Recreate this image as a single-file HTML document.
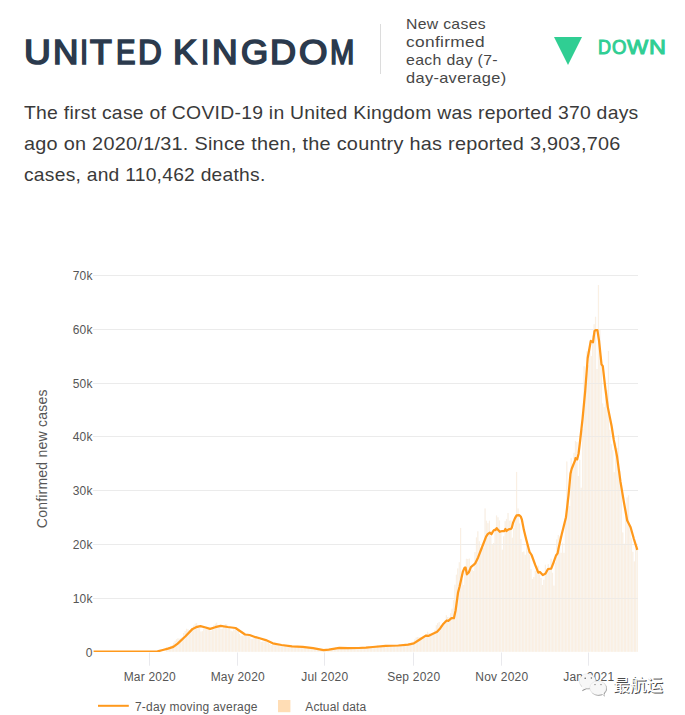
<!DOCTYPE html>
<html><head><meta charset="utf-8"><title>United Kingdom</title>
<style>
html,body{margin:0;padding:0;background:#fff;overflow:hidden;}
body{width:685px;height:715px;position:relative;overflow:hidden;font-family:"Liberation Sans",sans-serif;}
.title{position:absolute;top:29.0px;font-size:34.8px;line-height:46px;font-weight:normal;color:#2b3a4d;-webkit-text-stroke:1.7px #2b3a4d;white-space:nowrap;}
.title span{display:inline-block;vertical-align:top;transform-origin:0 0;overflow:visible;}
.divider{position:absolute;left:380px;top:24px;width:1px;height:50px;background:#dcdcdc;}
.sub{position:absolute;left:405.8px;top:14.5px;font-size:15px;line-height:18px;color:#474747;white-space:nowrap;letter-spacing:0.3px;}
.sub span,.para span{display:block;transform-origin:0 0;}
.tri{position:absolute;left:553.5px;top:37px;width:0;height:0;border-left:14.4px solid transparent;border-right:14.4px solid transparent;border-top:28.3px solid #30ce93;}
.down{position:absolute;top:35.3px;font-size:19.5px;line-height:24px;font-weight:normal;color:#30ce93;-webkit-text-stroke:1px #30ce93;white-space:nowrap;}
.down span{display:inline-block;vertical-align:top;transform-origin:0 0;overflow:visible;}
.para{position:absolute;left:24.2px;top:97.3px;font-size:18.5px;line-height:31px;color:#3a3a3a;white-space:nowrap;letter-spacing:0.25px;}
.para span{display:block;}
svg{position:absolute;left:0;top:0;}
.wm{position:absolute;left:613.2px;top:673.5px;font-family:"Liberation Sans","Noto Sans CJK SC",sans-serif;font-size:16.6px;line-height:24px;font-weight:500;color:#fff;text-shadow:0.9px 0.9px 0 #4a4a4a;white-space:nowrap;}
svg text{font-family:"Liberation Sans",sans-serif;font-size:12px;fill:#565656;letter-spacing:0.2px;}
</style></head><body>
<div class="title" style="left:24.0px"><span style="width:28.6px;transform:scaleX(1.067)">U</span><span style="width:27.7px;transform:scaleX(1.010)">N</span><span style="width:10.2px;transform:scaleX(0.840)">I</span><span style="width:25.5px;transform:scaleX(1.024)">T</span><span style="width:22.5px;transform:scaleX(0.840)">E</span><span style="width:24.7px;transform:scaleX(0.945)">D</span> <span style="width:28.1px;transform:scaleX(1.032)">K</span><span style="width:10.8px;transform:scaleX(0.840)">I</span><span style="width:28.8px;transform:scaleX(1.019)">N</span><span style="width:29.9px;transform:scaleX(1.004)">G</span><span style="width:28.8px;transform:scaleX(1.036)">D</span><span style="width:31.2px;transform:scaleX(1.052)">O</span><span style="width:24px;transform:scaleX(0.840)">M</span></div>
<div class="divider"></div>
<div class="sub"><span style="transform:scaleX(1.0507)">New cases</span><span style="transform:scaleX(1.1525)">confirmed</span><span style="transform:scaleX(1.0572)">each day (7-</span><span style="transform:scaleX(1.0922)">day-average)</span></div>
<div class="tri"></div>
<div class="down" style="left:597.8px"><span style="width:14.3px;transform:scaleX(0.926)">D</span><span style="width:14.8px;transform:scaleX(0.955)">O</span><span style="width:22.5px;transform:scaleX(1.15)">W</span><span style="width:14px;transform:scaleX(1.200)">N</span></div>
<div class="para"><span class="l1" style="transform:scaleX(1.0466)">The first case of COVID-19 in United Kingdom was reported 370 days</span><span class="l2" style="transform:scaleX(1.0731)">ago on 2020/1/31. Since then, the country has reported 3,903,706</span><span class="l3" style="transform:scaleX(1.0391)">cases, and 110,462 deaths.</span></div>
<svg width="685" height="715" viewBox="0 0 685 715">
<g stroke="#ebebeb" stroke-width="1" shape-rendering="crispEdges"><line x1="93" x2="638" y1="598.5" y2="598.5"/><line x1="93" x2="638" y1="544.5" y2="544.5"/><line x1="93" x2="638" y1="490.5" y2="490.5"/><line x1="93" x2="638" y1="436.5" y2="436.5"/><line x1="93" x2="638" y1="383.5" y2="383.5"/><line x1="93" x2="638" y1="329.5" y2="329.5"/><line x1="93" x2="638" y1="275.5" y2="275.5"/></g>
<clipPath id="uc"><path d="M165.77,651.8L165.77,647.39L167.20,647.39L167.20,646.90L168.64,646.90L168.64,647.04L170.07,647.04L170.07,646.29L171.51,646.29L171.51,645.23L172.94,645.23L172.94,642.86L174.38,642.86L174.38,640.80L175.81,640.80L175.81,639.27L177.25,639.27L177.25,638.29L178.68,638.29L178.68,638.78L180.12,638.78L180.12,638.25L181.55,638.25L181.55,637.04L182.99,637.04L182.99,633.06L184.42,633.06L184.42,630.96L185.86,630.96L185.86,628.84L187.29,628.84L187.29,629.22L188.73,629.22L188.73,630.11L190.16,630.11L190.16,629.50L191.60,629.50L191.60,630.17L193.03,630.17L193.03,625.51L194.47,625.51L194.47,623.69L195.90,623.69L195.90,623.08L197.34,623.08L197.34,625.33L198.77,625.33L198.77,627.87L200.21,627.87L200.21,631.57L201.64,631.57L201.64,631.23L203.08,631.23L203.08,628.56L204.51,628.56L204.51,627.81L205.95,627.81L205.95,627.64L207.38,627.64L207.38,627.97L208.82,627.97L208.82,628.64L210.25,628.64L210.25,631.12L211.69,631.12L211.69,628.01L213.12,628.01L213.12,625.27L214.56,625.27L214.56,623.77L215.99,623.77L215.99,622.72L217.43,622.72L217.43,625.50L218.86,625.50L218.86,626.30L220.30,626.30L220.30,628.90L221.73,628.90L221.73,628.65L223.17,628.65L223.17,626.54L224.60,626.54L224.60,624.09L226.04,624.09L226.04,624.35L227.47,624.35L227.47,625.82L228.91,625.82L228.91,627.77L230.34,627.77L230.34,630.66L231.78,630.66L231.78,631.42L233.21,631.42L233.21,629.18L234.65,629.18L234.65,629.89L236.08,629.89L236.08,630.71L237.52,630.71L237.52,631.18L238.95,631.18L238.95,633.96L240.39,633.96L240.39,635.84L241.82,635.84L241.82,635.67L243.26,635.67L243.26,634.33L244.69,634.33L244.69,634.53L246.13,634.53L246.13,634.05L247.56,634.05L247.56,634.37L249.00,634.37L249.00,636.79L250.43,636.79L250.43,638.99L251.87,638.99L251.87,638.93L253.30,638.93L253.30,637.98L254.74,637.98L254.74,637.67L256.17,637.67L256.17,638.17L257.61,638.17L257.61,637.78L259.04,637.78L259.04,639.90L260.48,639.90L260.48,641.90L261.91,641.90L261.91,641.75L263.35,641.75L263.35,641.55L264.78,641.55L264.78,641.41L266.22,641.41L266.22,641.37L267.65,641.37L267.65,642.55L269.09,642.55L269.09,643.89L270.52,643.89L270.52,644.97L271.96,644.97L271.96,644.67L273.39,644.67L273.39,643.73L274.83,643.73L274.83,644.06L276.26,644.06L276.26,644.62L277.70,644.62L277.70,645.10L279.13,645.10L279.13,645.89L280.57,645.89L280.57,645.97L282.00,645.97L282.00,646.23L283.44,646.23L283.44,645.46L284.87,645.46L284.87,645.80L286.31,645.80L286.31,645.88L287.74,645.88L287.74,645.92L289.18,645.92L289.18,646.41L290.61,646.41L290.61,647.22L292.05,647.22L292.05,647.27L293.48,647.27L293.48,646.21L294.92,646.21L294.92,646.32L296.35,646.32L296.35,646.03L297.79,646.03L297.79,646.69L299.22,646.69L299.22,647.05L300.66,647.05L300.66,647.55L302.09,647.55L302.09,647.64L303.53,647.64L303.53,647.48L304.96,647.48L304.96,647.23L306.40,647.23L306.40,647.71L307.83,647.71L307.83,647.97L309.27,647.97L309.27,648.52L310.70,648.52L310.70,648.87L312.14,648.87L312.14,649.24L313.57,649.24L313.57,648.91L315.01,648.91L315.01,649.06L316.44,649.06L316.44,649.28L317.88,649.28L317.88,649.81L319.31,649.81L319.31,650.09L320.75,650.09L320.75,650.11L322.18,650.11L322.18,649.79L323.62,649.79L323.62,649.34L325.05,649.34L325.05,649.03L326.49,649.03L326.49,648.82L327.92,648.82L327.92,648.76L329.36,648.76L329.36,648.63L330.79,648.63L330.79,648.68L332.23,648.68L332.23,648.66L333.66,648.66L333.66,647.96L335.10,647.96L335.10,647.34L336.53,647.34L336.53,647.35L337.97,647.35L337.97,647.82L339.40,647.82L339.40,648.26L340.84,648.26L340.84,648.54L342.27,648.54L342.27,648.43L343.71,648.43L343.71,648.20L345.14,648.20L345.14,647.60L346.58,647.60L346.58,647.68L348.01,647.68L348.01,647.68L349.45,647.68L349.45,648.29L350.88,648.29L350.88,648.26L352.32,648.26L352.32,648.21L353.75,648.21L353.75,647.89L355.19,647.89L355.19,647.26L356.62,647.26L356.62,647.26L358.06,647.26L358.06,647.27L359.49,647.27L359.49,648.01L360.93,648.01L360.93,648.26L362.36,648.26L362.36,647.70L363.80,647.70L363.80,647.27L365.23,647.27L365.23,646.74L366.67,646.74L366.67,646.78L368.10,646.78L368.10,646.33L369.54,646.33L369.54,647.00L370.97,647.00L370.97,647.12L372.41,647.12L372.41,647.28L373.84,647.28L373.84,646.29L375.28,646.29L375.28,646.13L376.71,646.13L376.71,645.34L378.15,645.34L378.15,645.77L379.58,645.77L379.58,646.48L381.02,646.48L381.02,646.84L382.45,646.84L382.45,646.32L383.89,646.32L383.89,645.89L385.32,645.89L385.32,645.42L386.76,645.42L386.76,645.10L388.19,645.10L388.19,645.26L389.63,645.26L389.63,645.77L391.06,645.77L391.06,646.22L392.50,646.22L392.50,646.16L393.93,646.16L393.93,645.14L395.37,645.14L395.37,644.99L396.80,644.99L396.80,644.68L398.24,644.68L398.24,644.36L399.67,644.36L399.67,645.45L401.11,645.45L401.11,645.82L402.54,645.82L402.54,645.48L403.98,645.48L403.98,644.20L405.41,644.20L405.41,643.90L406.85,643.90L406.85,643.48L408.28,643.48L408.28,643.03L409.72,643.03L409.72,643.49L411.15,643.49L411.15,642.85L412.59,642.85L412.59,641.53L414.02,641.53L414.02,639.48L415.46,639.48L415.46,637.55L416.89,637.55L416.89,636.94L418.33,636.94L418.33,637.18L419.76,637.18L419.76,637.04L421.20,637.04L421.20,637.88L422.63,637.88L422.63,637.16L424.07,637.16L424.07,635.83L425.50,635.83L425.50,633.98L426.94,633.98L426.94,631.73L428.37,631.73L428.37,632.99L429.81,632.99L429.81,633.83L431.24,633.83L431.24,633.67L432.68,633.67L432.68,633.53L434.11,633.53L434.11,629.90L435.55,629.90L435.55,625.16L436.98,625.16L436.98,623.12L438.42,623.12L438.42,621.88L439.85,621.88L439.85,625.25L441.29,625.25L441.29,625.09L442.72,625.09L442.72,625.44L444.16,625.44L444.16,620.41L445.59,620.41L445.59,615.33L447.03,615.33L447.03,617.00L448.46,617.00L448.46,617.29L449.90,617.29L449.90,613.26L451.33,613.26L451.33,608.63L452.77,608.63L452.77,600.12L454.20,600.12L454.20,584.67L455.64,584.67L455.64,574.66L457.07,574.66L457.07,568.43L458.51,568.43L458.51,562.32L459.94,562.32L459.94,527.90L461.38,527.90L461.38,579.30L462.81,579.30L462.81,584.96L464.25,584.96L464.25,565.92L465.68,565.92L465.68,558.83L467.12,558.83L467.12,558.90L468.55,558.90L468.55,558.60L469.99,558.60L469.99,568.21L471.42,568.21L471.42,569.96L472.86,569.96L472.86,571.09L474.29,571.09L474.29,552.09L475.73,552.09L475.73,537.42L477.16,537.42L477.16,531.34L478.60,531.34L478.60,541.34L480.03,541.34L480.03,548.03L481.47,548.03L481.47,546.09L482.90,546.09L482.90,547.68L484.34,547.68L484.34,508.40L485.77,508.40L485.77,520.74L487.21,520.74L487.21,523.26L488.64,523.26L488.64,520.74L490.08,520.74L490.08,536.34L491.51,536.34L491.51,544.31L492.95,544.31L492.95,542.99L494.38,542.99L494.38,531.96L495.82,531.96L495.82,515.46L497.25,515.46L497.25,517.35L498.69,517.35L498.69,520.46L500.12,520.46L500.12,529.96L501.56,529.96L501.56,549.72L502.99,549.72L502.99,536.35L504.43,536.35L504.43,521.16L505.86,521.16L505.86,518.88L507.30,518.88L507.30,513.03L508.73,513.03L508.73,520.79L510.17,520.79L510.17,520.38L511.60,520.38L511.60,537.70L513.04,537.70L513.04,528.29L514.47,528.29L514.47,518.86L515.91,518.86L515.91,471.90L517.34,471.90L517.34,508.49L518.78,508.49L518.78,523.50L520.21,523.50L520.21,538.90L521.65,538.90L521.65,552.12L523.08,552.12L523.08,551.51L524.52,551.51L524.52,554.85L525.95,554.85L525.95,544.46L527.39,544.46L527.39,547.67L528.82,547.67L528.82,554.87L530.26,554.87L530.26,568.96L531.69,568.96L531.69,578.95L533.13,578.95L533.13,577.02L534.56,577.02L534.56,570.83L536.00,570.83L536.00,566.38L537.43,566.38L537.43,565.75L538.87,565.75L538.87,574.49L540.30,574.49L540.30,578.03L541.74,578.03L541.74,584.97L543.17,584.97L543.17,579.75L544.61,579.75L544.61,564.69L546.04,564.69L546.04,571.68L547.48,571.68L547.48,564.15L548.91,564.15L548.91,568.46L550.35,568.46L550.35,558.78L551.78,558.78L551.78,572.76L553.22,572.76L553.22,585.66L554.65,585.66L554.65,562.54L556.09,562.54L556.09,539.42L557.52,539.42L557.52,535.12L558.96,535.12L558.96,536.19L560.39,536.19L560.39,552.86L561.83,552.86L561.83,542.65L563.26,542.65L563.26,552.86L564.70,552.86L564.70,516.30L566.13,516.30L566.13,461.45L567.57,461.45L567.57,498.56L569.00,498.56L569.00,506.08L570.44,506.08L570.44,458.23L571.87,458.23L571.87,471.67L573.31,471.67L573.31,452.85L574.74,452.85L574.74,441.02L576.18,441.02L576.18,442.10L577.61,442.10L577.61,475.97L579.05,475.97L579.05,459.84L580.48,459.84L580.48,487.80L581.92,487.80L581.92,429.19L583.35,429.19L583.35,366.28L584.79,366.28L584.79,382.95L586.22,382.95L586.22,351.23L587.66,351.23L587.66,365.21L589.09,365.21L589.09,341.55L590.53,341.55L590.53,356.06L591.96,356.06L591.96,335.63L593.40,335.63L593.40,324.34L594.83,324.34L594.83,316.81L596.27,316.81L596.27,368.97L597.70,368.97L597.70,285.00L599.14,285.00L599.14,329.72L600.57,329.72L600.57,356.60L602.01,356.60L602.01,403.38L603.44,403.38L603.44,407.15L604.88,407.15L604.88,396.39L606.31,396.39L606.31,389.94L607.75,389.94L607.75,350.90L609.18,350.90L609.18,429.73L610.62,429.73L610.62,444.25L612.05,444.25L612.05,450.16L613.49,450.16L613.49,472.21L614.92,472.21L614.92,442.63L616.36,442.63L616.36,448.01L617.79,448.01L617.79,435.11L619.23,435.11L619.23,471.13L620.66,471.13L620.66,490.49L622.10,490.49L622.10,532.43L623.53,532.43L623.53,543.72L624.97,543.72L624.97,515.76L626.40,515.76L626.40,497.48L627.84,497.48L627.84,495.33L629.27,495.33L629.27,526.52L630.71,526.52L630.71,538.35L632.14,538.35L632.14,551.79L633.58,551.79L633.58,561.47L635.01,561.47L635.01,548.56L636.45,548.56L636.45,546.41L637.88,546.41L637.9,651.8Z"/></clipPath>
<path d="M165.77,651.8L165.77,647.39L167.20,647.39L167.20,646.90L168.64,646.90L168.64,647.04L170.07,647.04L170.07,646.29L171.51,646.29L171.51,645.23L172.94,645.23L172.94,642.86L174.38,642.86L174.38,640.80L175.81,640.80L175.81,639.27L177.25,639.27L177.25,638.29L178.68,638.29L178.68,638.78L180.12,638.78L180.12,638.25L181.55,638.25L181.55,637.04L182.99,637.04L182.99,633.06L184.42,633.06L184.42,630.96L185.86,630.96L185.86,628.84L187.29,628.84L187.29,629.22L188.73,629.22L188.73,630.11L190.16,630.11L190.16,629.50L191.60,629.50L191.60,630.17L193.03,630.17L193.03,625.51L194.47,625.51L194.47,623.69L195.90,623.69L195.90,623.08L197.34,623.08L197.34,625.33L198.77,625.33L198.77,627.87L200.21,627.87L200.21,631.57L201.64,631.57L201.64,631.23L203.08,631.23L203.08,628.56L204.51,628.56L204.51,627.81L205.95,627.81L205.95,627.64L207.38,627.64L207.38,627.97L208.82,627.97L208.82,628.64L210.25,628.64L210.25,631.12L211.69,631.12L211.69,628.01L213.12,628.01L213.12,625.27L214.56,625.27L214.56,623.77L215.99,623.77L215.99,622.72L217.43,622.72L217.43,625.50L218.86,625.50L218.86,626.30L220.30,626.30L220.30,628.90L221.73,628.90L221.73,628.65L223.17,628.65L223.17,626.54L224.60,626.54L224.60,624.09L226.04,624.09L226.04,624.35L227.47,624.35L227.47,625.82L228.91,625.82L228.91,627.77L230.34,627.77L230.34,630.66L231.78,630.66L231.78,631.42L233.21,631.42L233.21,629.18L234.65,629.18L234.65,629.89L236.08,629.89L236.08,630.71L237.52,630.71L237.52,631.18L238.95,631.18L238.95,633.96L240.39,633.96L240.39,635.84L241.82,635.84L241.82,635.67L243.26,635.67L243.26,634.33L244.69,634.33L244.69,634.53L246.13,634.53L246.13,634.05L247.56,634.05L247.56,634.37L249.00,634.37L249.00,636.79L250.43,636.79L250.43,638.99L251.87,638.99L251.87,638.93L253.30,638.93L253.30,637.98L254.74,637.98L254.74,637.67L256.17,637.67L256.17,638.17L257.61,638.17L257.61,637.78L259.04,637.78L259.04,639.90L260.48,639.90L260.48,641.90L261.91,641.90L261.91,641.75L263.35,641.75L263.35,641.55L264.78,641.55L264.78,641.41L266.22,641.41L266.22,641.37L267.65,641.37L267.65,642.55L269.09,642.55L269.09,643.89L270.52,643.89L270.52,644.97L271.96,644.97L271.96,644.67L273.39,644.67L273.39,643.73L274.83,643.73L274.83,644.06L276.26,644.06L276.26,644.62L277.70,644.62L277.70,645.10L279.13,645.10L279.13,645.89L280.57,645.89L280.57,645.97L282.00,645.97L282.00,646.23L283.44,646.23L283.44,645.46L284.87,645.46L284.87,645.80L286.31,645.80L286.31,645.88L287.74,645.88L287.74,645.92L289.18,645.92L289.18,646.41L290.61,646.41L290.61,647.22L292.05,647.22L292.05,647.27L293.48,647.27L293.48,646.21L294.92,646.21L294.92,646.32L296.35,646.32L296.35,646.03L297.79,646.03L297.79,646.69L299.22,646.69L299.22,647.05L300.66,647.05L300.66,647.55L302.09,647.55L302.09,647.64L303.53,647.64L303.53,647.48L304.96,647.48L304.96,647.23L306.40,647.23L306.40,647.71L307.83,647.71L307.83,647.97L309.27,647.97L309.27,648.52L310.70,648.52L310.70,648.87L312.14,648.87L312.14,649.24L313.57,649.24L313.57,648.91L315.01,648.91L315.01,649.06L316.44,649.06L316.44,649.28L317.88,649.28L317.88,649.81L319.31,649.81L319.31,650.09L320.75,650.09L320.75,650.11L322.18,650.11L322.18,649.79L323.62,649.79L323.62,649.34L325.05,649.34L325.05,649.03L326.49,649.03L326.49,648.82L327.92,648.82L327.92,648.76L329.36,648.76L329.36,648.63L330.79,648.63L330.79,648.68L332.23,648.68L332.23,648.66L333.66,648.66L333.66,647.96L335.10,647.96L335.10,647.34L336.53,647.34L336.53,647.35L337.97,647.35L337.97,647.82L339.40,647.82L339.40,648.26L340.84,648.26L340.84,648.54L342.27,648.54L342.27,648.43L343.71,648.43L343.71,648.20L345.14,648.20L345.14,647.60L346.58,647.60L346.58,647.68L348.01,647.68L348.01,647.68L349.45,647.68L349.45,648.29L350.88,648.29L350.88,648.26L352.32,648.26L352.32,648.21L353.75,648.21L353.75,647.89L355.19,647.89L355.19,647.26L356.62,647.26L356.62,647.26L358.06,647.26L358.06,647.27L359.49,647.27L359.49,648.01L360.93,648.01L360.93,648.26L362.36,648.26L362.36,647.70L363.80,647.70L363.80,647.27L365.23,647.27L365.23,646.74L366.67,646.74L366.67,646.78L368.10,646.78L368.10,646.33L369.54,646.33L369.54,647.00L370.97,647.00L370.97,647.12L372.41,647.12L372.41,647.28L373.84,647.28L373.84,646.29L375.28,646.29L375.28,646.13L376.71,646.13L376.71,645.34L378.15,645.34L378.15,645.77L379.58,645.77L379.58,646.48L381.02,646.48L381.02,646.84L382.45,646.84L382.45,646.32L383.89,646.32L383.89,645.89L385.32,645.89L385.32,645.42L386.76,645.42L386.76,645.10L388.19,645.10L388.19,645.26L389.63,645.26L389.63,645.77L391.06,645.77L391.06,646.22L392.50,646.22L392.50,646.16L393.93,646.16L393.93,645.14L395.37,645.14L395.37,644.99L396.80,644.99L396.80,644.68L398.24,644.68L398.24,644.36L399.67,644.36L399.67,645.45L401.11,645.45L401.11,645.82L402.54,645.82L402.54,645.48L403.98,645.48L403.98,644.20L405.41,644.20L405.41,643.90L406.85,643.90L406.85,643.48L408.28,643.48L408.28,643.03L409.72,643.03L409.72,643.49L411.15,643.49L411.15,642.85L412.59,642.85L412.59,641.53L414.02,641.53L414.02,639.48L415.46,639.48L415.46,637.55L416.89,637.55L416.89,636.94L418.33,636.94L418.33,637.18L419.76,637.18L419.76,637.04L421.20,637.04L421.20,637.88L422.63,637.88L422.63,637.16L424.07,637.16L424.07,635.83L425.50,635.83L425.50,633.98L426.94,633.98L426.94,631.73L428.37,631.73L428.37,632.99L429.81,632.99L429.81,633.83L431.24,633.83L431.24,633.67L432.68,633.67L432.68,633.53L434.11,633.53L434.11,629.90L435.55,629.90L435.55,625.16L436.98,625.16L436.98,623.12L438.42,623.12L438.42,621.88L439.85,621.88L439.85,625.25L441.29,625.25L441.29,625.09L442.72,625.09L442.72,625.44L444.16,625.44L444.16,620.41L445.59,620.41L445.59,615.33L447.03,615.33L447.03,617.00L448.46,617.00L448.46,617.29L449.90,617.29L449.90,613.26L451.33,613.26L451.33,608.63L452.77,608.63L452.77,600.12L454.20,600.12L454.20,584.67L455.64,584.67L455.64,574.66L457.07,574.66L457.07,568.43L458.51,568.43L458.51,562.32L459.94,562.32L459.94,527.90L461.38,527.90L461.38,579.30L462.81,579.30L462.81,584.96L464.25,584.96L464.25,565.92L465.68,565.92L465.68,558.83L467.12,558.83L467.12,558.90L468.55,558.90L468.55,558.60L469.99,558.60L469.99,568.21L471.42,568.21L471.42,569.96L472.86,569.96L472.86,571.09L474.29,571.09L474.29,552.09L475.73,552.09L475.73,537.42L477.16,537.42L477.16,531.34L478.60,531.34L478.60,541.34L480.03,541.34L480.03,548.03L481.47,548.03L481.47,546.09L482.90,546.09L482.90,547.68L484.34,547.68L484.34,508.40L485.77,508.40L485.77,520.74L487.21,520.74L487.21,523.26L488.64,523.26L488.64,520.74L490.08,520.74L490.08,536.34L491.51,536.34L491.51,544.31L492.95,544.31L492.95,542.99L494.38,542.99L494.38,531.96L495.82,531.96L495.82,515.46L497.25,515.46L497.25,517.35L498.69,517.35L498.69,520.46L500.12,520.46L500.12,529.96L501.56,529.96L501.56,549.72L502.99,549.72L502.99,536.35L504.43,536.35L504.43,521.16L505.86,521.16L505.86,518.88L507.30,518.88L507.30,513.03L508.73,513.03L508.73,520.79L510.17,520.79L510.17,520.38L511.60,520.38L511.60,537.70L513.04,537.70L513.04,528.29L514.47,528.29L514.47,518.86L515.91,518.86L515.91,471.90L517.34,471.90L517.34,508.49L518.78,508.49L518.78,523.50L520.21,523.50L520.21,538.90L521.65,538.90L521.65,552.12L523.08,552.12L523.08,551.51L524.52,551.51L524.52,554.85L525.95,554.85L525.95,544.46L527.39,544.46L527.39,547.67L528.82,547.67L528.82,554.87L530.26,554.87L530.26,568.96L531.69,568.96L531.69,578.95L533.13,578.95L533.13,577.02L534.56,577.02L534.56,570.83L536.00,570.83L536.00,566.38L537.43,566.38L537.43,565.75L538.87,565.75L538.87,574.49L540.30,574.49L540.30,578.03L541.74,578.03L541.74,584.97L543.17,584.97L543.17,579.75L544.61,579.75L544.61,564.69L546.04,564.69L546.04,571.68L547.48,571.68L547.48,564.15L548.91,564.15L548.91,568.46L550.35,568.46L550.35,558.78L551.78,558.78L551.78,572.76L553.22,572.76L553.22,585.66L554.65,585.66L554.65,562.54L556.09,562.54L556.09,539.42L557.52,539.42L557.52,535.12L558.96,535.12L558.96,536.19L560.39,536.19L560.39,552.86L561.83,552.86L561.83,542.65L563.26,542.65L563.26,552.86L564.70,552.86L564.70,516.30L566.13,516.30L566.13,461.45L567.57,461.45L567.57,498.56L569.00,498.56L569.00,506.08L570.44,506.08L570.44,458.23L571.87,458.23L571.87,471.67L573.31,471.67L573.31,452.85L574.74,452.85L574.74,441.02L576.18,441.02L576.18,442.10L577.61,442.10L577.61,475.97L579.05,475.97L579.05,459.84L580.48,459.84L580.48,487.80L581.92,487.80L581.92,429.19L583.35,429.19L583.35,366.28L584.79,366.28L584.79,382.95L586.22,382.95L586.22,351.23L587.66,351.23L587.66,365.21L589.09,365.21L589.09,341.55L590.53,341.55L590.53,356.06L591.96,356.06L591.96,335.63L593.40,335.63L593.40,324.34L594.83,324.34L594.83,316.81L596.27,316.81L596.27,368.97L597.70,368.97L597.70,285.00L599.14,285.00L599.14,329.72L600.57,329.72L600.57,356.60L602.01,356.60L602.01,403.38L603.44,403.38L603.44,407.15L604.88,407.15L604.88,396.39L606.31,396.39L606.31,389.94L607.75,389.94L607.75,350.90L609.18,350.90L609.18,429.73L610.62,429.73L610.62,444.25L612.05,444.25L612.05,450.16L613.49,450.16L613.49,472.21L614.92,472.21L614.92,442.63L616.36,442.63L616.36,448.01L617.79,448.01L617.79,435.11L619.23,435.11L619.23,471.13L620.66,471.13L620.66,490.49L622.10,490.49L622.10,532.43L623.53,532.43L623.53,543.72L624.97,543.72L624.97,515.76L626.40,515.76L626.40,497.48L627.84,497.48L627.84,495.33L629.27,495.33L629.27,526.52L630.71,526.52L630.71,538.35L632.14,538.35L632.14,551.79L633.58,551.79L633.58,561.47L635.01,561.47L635.01,548.56L636.45,548.56L636.45,546.41L637.88,546.41L637.9,651.8Z" fill="#f8f6f4"/>
<g fill="#fcecd7"><rect x="166.19" y="647.39" width="0.6" height="4.41"/><rect x="167.62" y="646.90" width="0.6" height="4.90"/><rect x="169.06" y="647.04" width="0.6" height="4.76"/><rect x="170.49" y="646.29" width="0.6" height="5.51"/><rect x="171.92" y="645.23" width="0.6" height="6.57"/><rect x="173.36" y="642.86" width="0.6" height="8.94"/><rect x="174.79" y="640.80" width="0.6" height="11.00"/><rect x="176.23" y="639.27" width="0.6" height="12.53"/><rect x="177.66" y="638.29" width="0.6" height="13.51"/><rect x="179.10" y="638.78" width="0.6" height="13.02"/><rect x="180.53" y="638.25" width="0.6" height="13.55"/><rect x="181.97" y="637.04" width="0.6" height="14.76"/><rect x="183.40" y="633.06" width="0.6" height="18.74"/><rect x="184.84" y="630.96" width="0.6" height="20.84"/><rect x="186.27" y="628.84" width="0.6" height="22.96"/><rect x="187.71" y="629.22" width="0.6" height="22.58"/><rect x="189.14" y="630.11" width="0.6" height="21.69"/><rect x="190.58" y="629.50" width="0.6" height="22.30"/><rect x="192.01" y="630.17" width="0.6" height="21.63"/><rect x="193.45" y="625.51" width="0.6" height="26.29"/><rect x="194.88" y="623.69" width="0.6" height="28.11"/><rect x="196.32" y="623.08" width="0.6" height="28.72"/><rect x="197.75" y="625.33" width="0.6" height="26.47"/><rect x="199.19" y="627.87" width="0.6" height="23.93"/><rect x="200.62" y="631.57" width="0.6" height="20.23"/><rect x="202.06" y="631.23" width="0.6" height="20.57"/><rect x="203.50" y="628.56" width="0.6" height="23.24"/><rect x="204.93" y="627.81" width="0.6" height="23.99"/><rect x="206.37" y="627.64" width="0.6" height="24.16"/><rect x="207.80" y="627.97" width="0.6" height="23.83"/><rect x="209.23" y="628.64" width="0.6" height="23.16"/><rect x="210.67" y="631.12" width="0.6" height="20.68"/><rect x="212.10" y="628.01" width="0.6" height="23.79"/><rect x="213.54" y="625.27" width="0.6" height="26.53"/><rect x="214.97" y="623.77" width="0.6" height="28.03"/><rect x="216.41" y="622.72" width="0.6" height="29.08"/><rect x="217.84" y="625.50" width="0.6" height="26.30"/><rect x="219.28" y="626.30" width="0.6" height="25.50"/><rect x="220.71" y="628.90" width="0.6" height="22.90"/><rect x="222.15" y="628.65" width="0.6" height="23.15"/><rect x="223.58" y="626.54" width="0.6" height="25.26"/><rect x="225.02" y="624.09" width="0.6" height="27.71"/><rect x="226.45" y="624.35" width="0.6" height="27.45"/><rect x="227.89" y="625.82" width="0.6" height="25.98"/><rect x="229.32" y="627.77" width="0.6" height="24.03"/><rect x="230.76" y="630.66" width="0.6" height="21.14"/><rect x="232.19" y="631.42" width="0.6" height="20.38"/><rect x="233.63" y="629.18" width="0.6" height="22.62"/><rect x="235.06" y="629.89" width="0.6" height="21.91"/><rect x="236.50" y="630.71" width="0.6" height="21.09"/><rect x="237.94" y="631.18" width="0.6" height="20.62"/><rect x="239.37" y="633.96" width="0.6" height="17.84"/><rect x="240.81" y="635.84" width="0.6" height="15.96"/><rect x="242.24" y="635.67" width="0.6" height="16.13"/><rect x="243.68" y="634.33" width="0.6" height="17.47"/><rect x="245.11" y="634.53" width="0.6" height="17.27"/><rect x="246.55" y="634.05" width="0.6" height="17.75"/><rect x="247.98" y="634.37" width="0.6" height="17.43"/><rect x="249.41" y="636.79" width="0.6" height="15.01"/><rect x="250.85" y="638.99" width="0.6" height="12.81"/><rect x="252.28" y="638.93" width="0.6" height="12.87"/><rect x="253.72" y="637.98" width="0.6" height="13.82"/><rect x="255.15" y="637.67" width="0.6" height="14.13"/><rect x="256.59" y="638.17" width="0.6" height="13.63"/><rect x="258.02" y="637.78" width="0.6" height="14.02"/><rect x="259.46" y="639.90" width="0.6" height="11.90"/><rect x="260.89" y="641.90" width="0.6" height="9.90"/><rect x="262.33" y="641.75" width="0.6" height="10.05"/><rect x="263.76" y="641.55" width="0.6" height="10.25"/><rect x="265.20" y="641.41" width="0.6" height="10.39"/><rect x="266.63" y="641.37" width="0.6" height="10.43"/><rect x="268.07" y="642.55" width="0.6" height="9.25"/><rect x="269.50" y="643.89" width="0.6" height="7.91"/><rect x="270.94" y="644.97" width="0.6" height="6.83"/><rect x="272.38" y="644.67" width="0.6" height="7.13"/><rect x="273.81" y="643.73" width="0.6" height="8.07"/><rect x="275.25" y="644.06" width="0.6" height="7.74"/><rect x="276.68" y="644.62" width="0.6" height="7.18"/><rect x="278.12" y="645.10" width="0.6" height="6.70"/><rect x="279.55" y="645.89" width="0.6" height="5.91"/><rect x="280.99" y="645.97" width="0.6" height="5.83"/><rect x="282.42" y="646.23" width="0.6" height="5.57"/><rect x="283.86" y="645.46" width="0.6" height="6.34"/><rect x="285.29" y="645.80" width="0.6" height="6.00"/><rect x="286.72" y="645.88" width="0.6" height="5.92"/><rect x="288.16" y="645.92" width="0.6" height="5.88"/><rect x="289.59" y="646.41" width="0.6" height="5.39"/><rect x="291.03" y="647.22" width="0.6" height="4.58"/><rect x="292.46" y="647.27" width="0.6" height="4.53"/><rect x="293.90" y="646.21" width="0.6" height="5.59"/><rect x="295.33" y="646.32" width="0.6" height="5.48"/><rect x="296.77" y="646.03" width="0.6" height="5.77"/><rect x="298.20" y="646.69" width="0.6" height="5.11"/><rect x="299.64" y="647.05" width="0.6" height="4.75"/><rect x="301.07" y="647.55" width="0.6" height="4.25"/><rect x="302.51" y="647.64" width="0.6" height="4.16"/><rect x="303.94" y="647.48" width="0.6" height="4.32"/><rect x="305.38" y="647.23" width="0.6" height="4.57"/><rect x="306.81" y="647.71" width="0.6" height="4.09"/><rect x="308.25" y="647.97" width="0.6" height="3.83"/><rect x="309.69" y="648.52" width="0.6" height="3.28"/><rect x="311.12" y="648.87" width="0.6" height="2.93"/><rect x="312.56" y="649.24" width="0.6" height="2.56"/><rect x="313.99" y="648.91" width="0.6" height="2.89"/><rect x="315.43" y="649.06" width="0.6" height="2.74"/><rect x="316.86" y="649.28" width="0.6" height="2.52"/><rect x="318.30" y="649.81" width="0.6" height="1.99"/><rect x="319.73" y="650.09" width="0.6" height="1.71"/><rect x="321.17" y="650.11" width="0.6" height="1.69"/><rect x="322.60" y="649.79" width="0.6" height="2.01"/><rect x="324.03" y="649.34" width="0.6" height="2.46"/><rect x="325.47" y="649.03" width="0.6" height="2.77"/><rect x="326.90" y="648.82" width="0.6" height="2.98"/><rect x="328.34" y="648.76" width="0.6" height="3.04"/><rect x="329.77" y="648.63" width="0.6" height="3.17"/><rect x="331.21" y="648.68" width="0.6" height="3.12"/><rect x="332.64" y="648.66" width="0.6" height="3.14"/><rect x="334.08" y="647.96" width="0.6" height="3.84"/><rect x="335.51" y="647.34" width="0.6" height="4.46"/><rect x="336.95" y="647.35" width="0.6" height="4.45"/><rect x="338.38" y="647.82" width="0.6" height="3.98"/><rect x="339.82" y="648.26" width="0.6" height="3.54"/><rect x="341.25" y="648.54" width="0.6" height="3.26"/><rect x="342.69" y="648.43" width="0.6" height="3.37"/><rect x="344.12" y="648.20" width="0.6" height="3.60"/><rect x="345.56" y="647.60" width="0.6" height="4.20"/><rect x="347.00" y="647.68" width="0.6" height="4.12"/><rect x="348.43" y="647.68" width="0.6" height="4.12"/><rect x="349.87" y="648.29" width="0.6" height="3.51"/><rect x="351.30" y="648.26" width="0.6" height="3.54"/><rect x="352.74" y="648.21" width="0.6" height="3.59"/><rect x="354.17" y="647.89" width="0.6" height="3.91"/><rect x="355.61" y="647.26" width="0.6" height="4.54"/><rect x="357.04" y="647.26" width="0.6" height="4.54"/><rect x="358.48" y="647.27" width="0.6" height="4.53"/><rect x="359.91" y="648.01" width="0.6" height="3.79"/><rect x="361.35" y="648.26" width="0.6" height="3.54"/><rect x="362.78" y="647.70" width="0.6" height="4.10"/><rect x="364.22" y="647.27" width="0.6" height="4.53"/><rect x="365.65" y="646.74" width="0.6" height="5.06"/><rect x="367.09" y="646.78" width="0.6" height="5.02"/><rect x="368.52" y="646.33" width="0.6" height="5.47"/><rect x="369.95" y="647.00" width="0.6" height="4.80"/><rect x="371.39" y="647.12" width="0.6" height="4.68"/><rect x="372.82" y="647.28" width="0.6" height="4.52"/><rect x="374.26" y="646.29" width="0.6" height="5.51"/><rect x="375.69" y="646.13" width="0.6" height="5.67"/><rect x="377.13" y="645.34" width="0.6" height="6.46"/><rect x="378.56" y="645.77" width="0.6" height="6.03"/><rect x="380.00" y="646.48" width="0.6" height="5.32"/><rect x="381.44" y="646.84" width="0.6" height="4.96"/><rect x="382.87" y="646.32" width="0.6" height="5.48"/><rect x="384.31" y="645.89" width="0.6" height="5.91"/><rect x="385.74" y="645.42" width="0.6" height="6.38"/><rect x="387.18" y="645.10" width="0.6" height="6.70"/><rect x="388.61" y="645.26" width="0.6" height="6.54"/><rect x="390.05" y="645.77" width="0.6" height="6.03"/><rect x="391.48" y="646.22" width="0.6" height="5.58"/><rect x="392.92" y="646.16" width="0.6" height="5.64"/><rect x="394.35" y="645.14" width="0.6" height="6.66"/><rect x="395.79" y="644.99" width="0.6" height="6.81"/><rect x="397.22" y="644.68" width="0.6" height="7.12"/><rect x="398.66" y="644.36" width="0.6" height="7.44"/><rect x="400.09" y="645.45" width="0.6" height="6.35"/><rect x="401.53" y="645.82" width="0.6" height="5.98"/><rect x="402.96" y="645.48" width="0.6" height="6.32"/><rect x="404.40" y="644.20" width="0.6" height="7.60"/><rect x="405.83" y="643.90" width="0.6" height="7.90"/><rect x="407.26" y="643.48" width="0.6" height="8.32"/><rect x="408.70" y="643.03" width="0.6" height="8.77"/><rect x="410.13" y="643.49" width="0.6" height="8.31"/><rect x="411.57" y="642.85" width="0.6" height="8.95"/><rect x="413.00" y="641.53" width="0.6" height="10.27"/><rect x="414.44" y="639.48" width="0.6" height="12.32"/><rect x="415.88" y="637.55" width="0.6" height="14.25"/><rect x="417.31" y="636.94" width="0.6" height="14.86"/><rect x="418.75" y="637.18" width="0.6" height="14.62"/><rect x="420.18" y="637.04" width="0.6" height="14.76"/><rect x="421.62" y="637.88" width="0.6" height="13.92"/><rect x="423.05" y="637.16" width="0.6" height="14.64"/><rect x="424.49" y="635.83" width="0.6" height="15.97"/><rect x="425.92" y="633.98" width="0.6" height="17.82"/><rect x="427.36" y="631.73" width="0.6" height="20.07"/><rect x="428.79" y="632.99" width="0.6" height="18.81"/><rect x="430.23" y="633.83" width="0.6" height="17.97"/><rect x="431.66" y="633.67" width="0.6" height="18.13"/><rect x="433.10" y="633.53" width="0.6" height="18.27"/><rect x="434.53" y="629.90" width="0.6" height="21.90"/><rect x="435.97" y="625.16" width="0.6" height="26.64"/><rect x="437.40" y="623.12" width="0.6" height="28.68"/><rect x="438.84" y="621.88" width="0.6" height="29.92"/><rect x="440.27" y="625.25" width="0.6" height="26.55"/><rect x="441.71" y="625.09" width="0.6" height="26.71"/><rect x="443.14" y="625.44" width="0.6" height="26.36"/><rect x="444.57" y="620.41" width="0.6" height="31.39"/><rect x="446.01" y="615.33" width="0.6" height="36.47"/><rect x="447.44" y="617.00" width="0.6" height="34.80"/><rect x="448.88" y="617.29" width="0.6" height="34.51"/><rect x="450.31" y="613.26" width="0.6" height="38.54"/><rect x="451.75" y="608.63" width="0.6" height="43.17"/><rect x="453.19" y="600.12" width="0.6" height="51.68"/><rect x="454.62" y="584.67" width="0.6" height="67.13"/><rect x="456.06" y="574.66" width="0.6" height="77.14"/><rect x="457.49" y="568.43" width="0.6" height="83.37"/><rect x="458.93" y="562.32" width="0.6" height="89.48"/><rect x="460.36" y="527.90" width="0.6" height="123.90"/><rect x="461.80" y="579.30" width="0.6" height="72.50"/><rect x="463.23" y="584.96" width="0.6" height="66.84"/><rect x="464.67" y="565.92" width="0.6" height="85.88"/><rect x="466.10" y="558.83" width="0.6" height="92.97"/><rect x="467.54" y="558.90" width="0.6" height="92.90"/><rect x="468.97" y="558.60" width="0.6" height="93.20"/><rect x="470.41" y="568.21" width="0.6" height="83.59"/><rect x="471.84" y="569.96" width="0.6" height="81.84"/><rect x="473.28" y="571.09" width="0.6" height="80.71"/><rect x="474.71" y="552.09" width="0.6" height="99.71"/><rect x="476.15" y="537.42" width="0.6" height="114.38"/><rect x="477.58" y="531.34" width="0.6" height="120.46"/><rect x="479.01" y="541.34" width="0.6" height="110.46"/><rect x="480.45" y="548.03" width="0.6" height="103.77"/><rect x="481.88" y="546.09" width="0.6" height="105.71"/><rect x="483.32" y="547.68" width="0.6" height="104.12"/><rect x="484.75" y="508.40" width="0.6" height="143.40"/><rect x="486.19" y="520.74" width="0.6" height="131.06"/><rect x="487.62" y="523.26" width="0.6" height="128.54"/><rect x="489.06" y="520.74" width="0.6" height="131.06"/><rect x="490.50" y="536.34" width="0.6" height="115.46"/><rect x="491.93" y="544.31" width="0.6" height="107.49"/><rect x="493.37" y="542.99" width="0.6" height="108.81"/><rect x="494.80" y="531.96" width="0.6" height="119.84"/><rect x="496.24" y="515.46" width="0.6" height="136.34"/><rect x="497.67" y="517.35" width="0.6" height="134.45"/><rect x="499.11" y="520.46" width="0.6" height="131.34"/><rect x="500.54" y="529.96" width="0.6" height="121.84"/><rect x="501.98" y="549.72" width="0.6" height="102.08"/><rect x="503.41" y="536.35" width="0.6" height="115.45"/><rect x="504.85" y="521.16" width="0.6" height="130.64"/><rect x="506.28" y="518.88" width="0.6" height="132.92"/><rect x="507.72" y="513.03" width="0.6" height="138.77"/><rect x="509.15" y="520.79" width="0.6" height="131.01"/><rect x="510.59" y="520.38" width="0.6" height="131.42"/><rect x="512.02" y="537.70" width="0.6" height="114.10"/><rect x="513.46" y="528.29" width="0.6" height="123.51"/><rect x="514.89" y="518.86" width="0.6" height="132.94"/><rect x="516.33" y="471.90" width="0.6" height="179.90"/><rect x="517.76" y="508.49" width="0.6" height="143.31"/><rect x="519.20" y="523.50" width="0.6" height="128.30"/><rect x="520.63" y="538.90" width="0.6" height="112.90"/><rect x="522.07" y="552.12" width="0.6" height="99.68"/><rect x="523.50" y="551.51" width="0.6" height="100.29"/><rect x="524.94" y="554.85" width="0.6" height="96.95"/><rect x="526.37" y="544.46" width="0.6" height="107.34"/><rect x="527.81" y="547.67" width="0.6" height="104.13"/><rect x="529.24" y="554.87" width="0.6" height="96.93"/><rect x="530.68" y="568.96" width="0.6" height="82.84"/><rect x="532.11" y="578.95" width="0.6" height="72.85"/><rect x="533.55" y="577.02" width="0.6" height="74.78"/><rect x="534.98" y="570.83" width="0.6" height="80.97"/><rect x="536.42" y="566.38" width="0.6" height="85.42"/><rect x="537.85" y="565.75" width="0.6" height="86.05"/><rect x="539.29" y="574.49" width="0.6" height="77.31"/><rect x="540.72" y="578.03" width="0.6" height="73.77"/><rect x="542.16" y="584.97" width="0.6" height="66.83"/><rect x="543.59" y="579.75" width="0.6" height="72.05"/><rect x="545.03" y="564.69" width="0.6" height="87.11"/><rect x="546.46" y="571.68" width="0.6" height="80.12"/><rect x="547.90" y="564.15" width="0.6" height="87.65"/><rect x="549.33" y="568.46" width="0.6" height="83.34"/><rect x="550.77" y="558.78" width="0.6" height="93.02"/><rect x="552.20" y="572.76" width="0.6" height="79.04"/><rect x="553.63" y="585.66" width="0.6" height="66.14"/><rect x="555.07" y="562.54" width="0.6" height="89.26"/><rect x="556.50" y="539.42" width="0.6" height="112.38"/><rect x="557.94" y="535.12" width="0.6" height="116.68"/><rect x="559.38" y="536.19" width="0.6" height="115.61"/><rect x="560.81" y="552.86" width="0.6" height="98.94"/><rect x="562.25" y="542.65" width="0.6" height="109.15"/><rect x="563.68" y="552.86" width="0.6" height="98.94"/><rect x="565.12" y="516.30" width="0.6" height="135.50"/><rect x="566.55" y="461.45" width="0.6" height="190.35"/><rect x="567.99" y="498.56" width="0.6" height="153.24"/><rect x="569.42" y="506.08" width="0.6" height="145.72"/><rect x="570.86" y="458.23" width="0.6" height="193.57"/><rect x="572.29" y="471.67" width="0.6" height="180.13"/><rect x="573.73" y="452.85" width="0.6" height="198.95"/><rect x="575.16" y="441.02" width="0.6" height="210.78"/><rect x="576.60" y="442.10" width="0.6" height="209.70"/><rect x="578.03" y="475.97" width="0.6" height="175.83"/><rect x="579.47" y="459.84" width="0.6" height="191.96"/><rect x="580.90" y="487.80" width="0.6" height="164.00"/><rect x="582.34" y="429.19" width="0.6" height="222.61"/><rect x="583.77" y="366.28" width="0.6" height="285.52"/><rect x="585.21" y="382.95" width="0.6" height="268.85"/><rect x="586.64" y="351.23" width="0.6" height="300.57"/><rect x="588.08" y="365.21" width="0.6" height="286.59"/><rect x="589.51" y="341.55" width="0.6" height="310.25"/><rect x="590.95" y="356.06" width="0.6" height="295.74"/><rect x="592.38" y="335.63" width="0.6" height="316.17"/><rect x="593.82" y="324.34" width="0.6" height="327.46"/><rect x="595.25" y="316.81" width="0.6" height="334.99"/><rect x="596.69" y="368.97" width="0.6" height="282.83"/><rect x="598.12" y="285.00" width="0.6" height="366.80"/><rect x="599.56" y="329.72" width="0.6" height="322.08"/><rect x="600.99" y="356.60" width="0.6" height="295.20"/><rect x="602.43" y="403.38" width="0.6" height="248.42"/><rect x="603.86" y="407.15" width="0.6" height="244.65"/><rect x="605.30" y="396.39" width="0.6" height="255.41"/><rect x="606.73" y="389.94" width="0.6" height="261.86"/><rect x="608.16" y="350.90" width="0.6" height="300.90"/><rect x="609.60" y="429.73" width="0.6" height="222.07"/><rect x="611.03" y="444.25" width="0.6" height="207.55"/><rect x="612.47" y="450.16" width="0.6" height="201.64"/><rect x="613.90" y="472.21" width="0.6" height="179.59"/><rect x="615.34" y="442.63" width="0.6" height="209.17"/><rect x="616.77" y="448.01" width="0.6" height="203.79"/><rect x="618.21" y="435.11" width="0.6" height="216.69"/><rect x="619.64" y="471.13" width="0.6" height="180.67"/><rect x="621.08" y="490.49" width="0.6" height="161.31"/><rect x="622.51" y="532.43" width="0.6" height="119.37"/><rect x="623.95" y="543.72" width="0.6" height="108.08"/><rect x="625.38" y="515.76" width="0.6" height="136.04"/><rect x="626.82" y="497.48" width="0.6" height="154.32"/><rect x="628.25" y="495.33" width="0.6" height="156.47"/><rect x="629.69" y="526.52" width="0.6" height="125.28"/><rect x="631.12" y="538.35" width="0.6" height="113.45"/><rect x="632.56" y="551.79" width="0.6" height="100.01"/><rect x="634.00" y="561.47" width="0.6" height="90.33"/><rect x="635.43" y="548.56" width="0.6" height="103.24"/><rect x="636.87" y="546.41" width="0.6" height="105.39"/></g>
<g stroke="#efebe6" stroke-width="1" shape-rendering="crispEdges" clip-path="url(#uc)"><line x1="93" x2="638" y1="598.5" y2="598.5"/><line x1="93" x2="638" y1="544.5" y2="544.5"/><line x1="93" x2="638" y1="490.5" y2="490.5"/><line x1="93" x2="638" y1="436.5" y2="436.5"/><line x1="93" x2="638" y1="383.5" y2="383.5"/><line x1="93" x2="638" y1="329.5" y2="329.5"/><line x1="93" x2="638" y1="275.5" y2="275.5"/></g>
<g stroke="#e9e9ed" stroke-width="1"><line x1="149.5" x2="149.5" y1="652.5" y2="665.7"/><line x1="237.5" x2="237.5" y1="652.5" y2="665.7"/><line x1="324.5" x2="324.5" y1="652.5" y2="665.7"/><line x1="413.5" x2="413.5" y1="652.5" y2="665.7"/><line x1="501.5" x2="501.5" y1="652.5" y2="665.7"/><line x1="588.5" x2="588.5" y1="652.5" y2="665.7"/></g>
<clipPath id="pc"><rect x="93" y="268" width="546" height="384"/></clipPath>
<polyline clip-path="url(#pc)" points="93.6,651.6 120.0,651.6 150.0,651.5 157.5,651.4 162.8,650.0 168.0,648.6 173.3,646.9 177.7,643.6 185.5,636.3 192.6,628.9 196.1,627.2 200.4,626.1 205.7,627.5 210.1,628.9 215.3,627.2 220.6,625.8 227.6,627.0 235.5,628.0 239.9,631.0 245.1,634.5 249.5,635.0 255.6,637.2 258.8,638.0 265.8,640.1 272.8,643.3 281.5,645.0 292.0,646.4 302.6,646.8 313.1,648.2 323.6,650.1 328.8,649.6 339.3,647.9 348.1,648.2 358.6,648.0 366.0,647.6 372.8,647.0 385.7,645.9 398.5,645.5 408.2,644.6 413.8,643.4 419.4,639.7 425.8,635.6 428.3,635.9 437.1,631.7 440.3,628.2 443.5,623.7 446.7,620.5 448.3,620.9 451.5,618.2 453.9,618.2 455.6,610.5 458.0,592.8 459.6,586.4 462.8,571.9 464.5,567.9 465.6,567.6 466.9,574.3 468.9,572.2 470.9,567.1 473.3,565.2 475.4,563.1 478.1,557.4 482.1,547.0 486.1,536.6 487.7,534.2 489.8,532.6 491.4,534.2 493.0,531.4 494.2,529.8 495.4,530.1 496.7,528.1 498.2,530.1 499.8,531.8 502.2,531.0 504.3,531.0 505.4,529.0 506.5,531.0 508.6,529.3 511.0,528.9 511.8,527.7 513.0,522.9 515.0,518.1 516.6,515.4 519.1,515.1 520.7,516.5 521.9,519.7 523.9,530.1 526.3,539.8 529.5,551.8 531.6,555.0 535.1,564.7 538.3,572.7 539.9,571.9 542.8,575.1 545.5,573.5 548.0,569.0 551.2,568.7 553.6,562.3 556.0,555.5 557.6,553.4 558.4,549.1 561.8,534.0 566.0,517.2 568.5,495.4 570.5,473.6 571.8,468.5 575.2,460.1 575.5,458.1 577.2,459.3 578.6,453.4 580.2,440.0 582.6,418.4 585.2,390.8 587.7,358.0 590.8,340.9 593.0,342.2 594.5,331.2 595.6,330.2 597.4,330.2 599.0,340.4 601.5,364.3 602.8,366.1 605.3,388.2 607.8,407.1 611.6,426.0 613.8,440.0 617.1,456.8 620.5,481.9 623.9,502.1 627.2,520.5 630.6,527.2 633.9,539.0 637.3,549.9" fill="none" stroke="#ff991c" stroke-width="2.25" stroke-linejoin="round" stroke-linecap="butt"/>
<g><text x="92.6" y="656.7" text-anchor="end">0</text><text x="92.6" y="602.7" text-anchor="end">10k</text><text x="92.6" y="548.7" text-anchor="end">20k</text><text x="92.6" y="494.7" text-anchor="end">30k</text><text x="92.6" y="440.7" text-anchor="end">40k</text><text x="92.6" y="387.7" text-anchor="end">50k</text><text x="92.6" y="333.7" text-anchor="end">60k</text><text x="92.6" y="279.7" text-anchor="end">70k</text></g>
<g><text x="149.8" y="681" text-anchor="middle">Mar 2020</text><text x="237.8" y="681" text-anchor="middle">May 2020</text><text x="324.8" y="681" text-anchor="middle">Jul 2020</text><text x="413.8" y="681" text-anchor="middle">Sep 2020</text><text x="501.8" y="681" text-anchor="middle">Nov 2020</text><text x="588.8" y="681" text-anchor="middle">Jan 2021</text></g>
<text transform="translate(46.8,458.8) rotate(-90)" text-anchor="middle" style="font-size:14px;letter-spacing:0.22px">Confirmed new cases</text>
<line x1="98" x2="128.8" y1="705.8" y2="705.8" stroke="#ff991c" stroke-width="2"/>
<text x="135" y="710.5">7-day moving average</text>
<rect x="278" y="700" width="12.4" height="12.2" fill="#ffddb5"/>
<text x="305.3" y="710.5" style="letter-spacing:0.08px">Actual data</text>
<g id="wm">
<g fill="#8c8c8c" transform="translate(0.6,0.7)">
<ellipse cx="587.6" cy="681.2" rx="8.3" ry="7.4"/><path d="M582.2,686.2 L581.6,690.6 L586,688.2Z"/>
</g>
<g fill="#fff" fill-opacity="0.93" stroke="#cfcfcf" stroke-width="0.4">
<ellipse cx="587.6" cy="681.2" rx="8.3" ry="7.4"/><path d="M582.2,686.2 L581.6,690.6 L586,688.2Z" stroke="none"/>
</g>
<circle cx="585.2" cy="678.2" r="0.8" fill="#666"/><circle cx="591.4" cy="678" r="0.8" fill="#666"/>
<g fill="#8c8c8c" transform="translate(0.6,0.7)">
<ellipse cx="598.1" cy="688" rx="8.3" ry="7"/><path d="M601.5,693.5 L604,696 L603.6,692Z"/>
</g>
<g fill="#fff" fill-opacity="0.93" stroke="#cfcfcf" stroke-width="0.4">
<ellipse cx="598.1" cy="688" rx="8.3" ry="7"/><path d="M601.5,693.5 L604,696 L603.6,692Z" stroke="none"/>
</g>
<circle cx="595" cy="684.6" r="0.7" fill="#777"/><circle cx="601" cy="684.6" r="0.7" fill="#777"/>

</g>
</svg>
<div class="wm">最航运</div>
</body></html>
